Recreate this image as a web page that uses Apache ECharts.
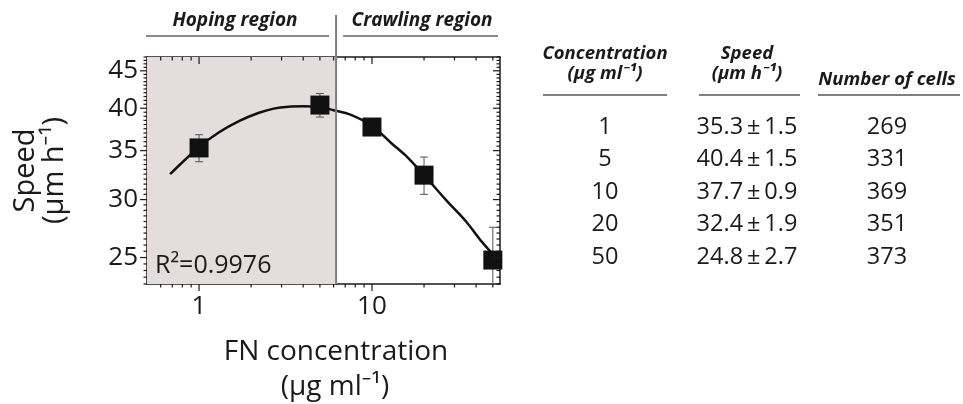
<!DOCTYPE html>
<html><head><meta charset="utf-8">
<script src="https://cdn.jsdelivr.net/npm/echarts@6/dist/echarts.min.js"></script>
<style>html,body{margin:0;padding:0;background:#fff}#c{width:963px;height:404px}</style>
</head><body><div id="c"></div>
<script>
// ---- data ----
const concentrations = [1, 5, 10, 20, 50];
const speeds = [35.3, 40.4, 37.7, 32.4, 24.8];
const speedSD = [1.5, 1.5, 0.9, 1.9, 2.7];
const cellCounts = [269, 331, 369, 351, 373];
const fitX = [0.68, 1, 1.3, 1.7, 2.2, 2.7, 3.3, 4, 5, 6, 7.5, 10, 13, 16, 20, 27, 35, 43, 50, 53];
const fitY = [32.5, 35.4, 37.05, 38.4, 39.4, 39.95, 40.2, 40.25, 40.15, 39.75, 39.2, 37.85, 35.8, 34.3, 32.4, 29.9, 28.0, 26.3, 25.25, 24.85];
const xMajorTicks = [1, 10];
const xMinorTicks = [0.6, 0.7, 0.8, 0.9, 2, 3, 4, 5, 6, 7, 8, 9, 20, 30, 40, 50];
const yMajorTicks = [25, 30, 35, 40, 45];
const yMinorTicks = [23, 23.5, 24, 24.5, 25.5, 26, 26.5, 27, 27.5, 28, 28.5, 29, 29.5, 30.5, 31, 31.5, 32, 32.5, 33, 33.5, 34, 34.5, 35.5, 36, 36.5, 37, 37.5, 38, 38.5, 39, 39.5, 40.5, 41, 41.5, 42, 42.5, 43, 43.5, 44, 44.5, 45.5, 46, 46.5, 47];
const regionBoundary = 6.2;
const regionLabels = ['Hoping region', 'Crawling region'];
const fitLabel = 'R²=0.9976';
const xTitle = ['FN concentration', '(µg ml⁻¹)'];
const yTitle = 'Speed\n(µm h⁻¹)';
const tableHeaders = [['Concentration', '(µg ml⁻¹)'], ['Speed', '(µm h⁻¹)'], ['Number of cells']];

// ---- style ----
const FONT = '"Open Sans", "Noto Sans", sans-serif';
const INK = '#1a1a1a';
const X_MIN = 0.5, X_MAX = 55, Y_MIN = 23, Y_MAX = 47;
const GRID = {left: 147, top: 57, width: 353, height: 227};

function xAxisDef(position, showLabel) {
  return {
    type: 'log', logBase: 10, min: X_MIN, max: X_MAX, position: position,
    axisLine: {show: true, onZero: false, lineStyle: {color: INK, width: 1.5}},
    axisTick: {show: false},
    axisLabel: showLabel ? {show: true, customValues: xMajorTicks, formatter: v => String(v), fontFamily: FONT, fontSize: 26, color: INK, margin: 10} : {show: false},
    splitLine: {show: false}, minorTick: {show: false}
  };
}
function yAxisDef(position, showLabel) {
  return {
    type: 'log', logBase: 10, min: Y_MIN, max: Y_MAX, position: position,
    axisLine: {show: true, onZero: false, lineStyle: {color: INK, width: 1.5}},
    axisTick: {show: false},
    axisLabel: showLabel ? {show: true, customValues: yMajorTicks, formatter: v => String(v), fontFamily: FONT, fontSize: 26, color: INK, margin: 9} : {show: false},
    splitLine: {show: false}, minorTick: {show: false}
  };
}

const yAxis0 = Object.assign(yAxisDef('left', true), {
  name: yTitle, nameLocation: 'middle', nameGap: 78, nameRotate: 90,
  nameTextStyle: {fontFamily: FONT, fontSize: 29, color: INK, lineHeight: 29}
});

const points = concentrations.map((c, i) => [c, speeds[i]]);
const errData = concentrations.map((c, i) => [c, speeds[i] + speedSD[i], Math.max(speeds[i] - speedSD[i], Y_MIN)]);
const fitData = fitX.map((x, i) => [x, fitY[i]]);

const option = {
  animation: false,
  backgroundColor: '#ffffff',
  grid: GRID,
  xAxis: [xAxisDef('bottom', true), xAxisDef('top', false)],
  yAxis: [yAxis0, yAxisDef('right', false)],
  series: [
    {
      type: 'line', data: points, showSymbol: false, symbol: 'none',
      lineStyle: {width: 0, opacity: 0}, z: 0, silent: true,
      markArea: {
        silent: true,
        itemStyle: {color: '#e3dddd'},
        data: [[{xAxis: X_MIN}, {xAxis: regionBoundary}]]
      }
    },
    {
      type: 'custom', data: errData, clip: true, z: 2,
      encode: {x: 0, y: [1, 2]},
      renderItem: function (params, api) {
        const x = api.value(0);
        const hi = api.coord([x, api.value(1)]);
        const lo = api.coord([x, api.value(2)]);
        const w = 4;
        return {type: 'group', children: [
          {type: 'line', shape: {x1: hi[0], y1: hi[1], x2: lo[0], y2: lo[1]}, style: {stroke: '#555', lineWidth: 1}},
          {type: 'line', shape: {x1: hi[0] - w, y1: hi[1], x2: hi[0] + w, y2: hi[1]}, style: {stroke: '#555', lineWidth: 1}},
          {type: 'line', shape: {x1: lo[0] - w, y1: lo[1], x2: lo[0] + w, y2: lo[1]}, style: {stroke: '#555', lineWidth: 1}}
        ]};
      }
    },
    {
      type: 'line', data: fitData, smooth: 0.3, symbol: 'none', z: 3,
      lineStyle: {color: '#111', width: 2.5}
    },
    {
      type: 'scatter', data: points, symbol: 'rect', symbolSize: 19, z: 4,
      itemStyle: {color: '#111', opacity: 1}
    }
  ]
};

const chart = echarts.init(document.getElementById('c'), null, {renderer: 'canvas'});
chart.setOption(option);

// ---- ticks, annotations & table ----
const g = [];
function px(x, y) { return chart.convertToPixel({xAxisIndex: 0, yAxisIndex: 0}, [x, y]); }
function tickLine(x1, y1, x2, y2) {
  g.push({type: 'line', z: 20, silent: true, shape: {x1: x1, y1: y1, x2: x2, y2: y2}, style: {stroke: INK, lineWidth: 1.2}});
}
xMajorTicks.map(v => [v, 7]).concat(xMinorTicks.map(v => [v, 3.5])).forEach(([v, len]) => {
  const b = px(v, Y_MIN), t = px(v, Y_MAX);
  tickLine(b[0], b[1], b[0], b[1] + len);   // bottom: outward
  tickLine(t[0], t[1], t[0], t[1] + len);   // top: inward
});
yMajorTicks.map(v => [v, 7]).concat(yMinorTicks.map(v => [v, 3.5])).forEach(([v, len]) => {
  const l = px(X_MIN, v), r = px(X_MAX, v);
  tickLine(l[0] - len, l[1], l[0], l[1]);   // left: outward
  tickLine(r[0] - len, r[1], r[0], r[1]);   // right: inward
});

const bx = px(regionBoundary, Y_MIN)[0];
const gridBottom = GRID.top + GRID.height;
g.push({type: 'line', z: 10, shape: {x1: bx, y1: 15, x2: bx, y2: gridBottom}, style: {stroke: '#7f7f7f', lineWidth: 2}});
g.push({type: 'line', shape: {x1: 146, y1: 36, x2: bx - 7, y2: 36}, style: {stroke: '#8a8a8a', lineWidth: 2}});
g.push({type: 'line', shape: {x1: bx + 7, y1: 36, x2: 498, y2: 36}, style: {stroke: '#8a8a8a', lineWidth: 2}});
const regStyle = {fontFamily: FONT, fontWeight: 'bold', fontStyle: 'italic', fontSize: 19, fill: INK, align: 'center', verticalAlign: 'middle'};
g.push({type: 'text', x: 235, y: 21, style: Object.assign({text: regionLabels[0]}, regStyle)});
g.push({type: 'text', x: 422, y: 21, style: Object.assign({text: regionLabels[1]}, regStyle)});
g.push({type: 'text', z: 10, x: 155, y: 266, style: {text: fitLabel, fontFamily: FONT, fontSize: 25, fill: INK, align: 'left', verticalAlign: 'middle'}});
const xTitleStyle = {fontFamily: FONT, fontSize: 28, fill: INK, align: 'center', verticalAlign: 'middle'};
g.push({type: 'text', x: 336, y: 352, style: Object.assign({text: xTitle[0]}, xTitleStyle)});
g.push({type: 'text', x: 335, y: 387, style: Object.assign({text: xTitle[1]}, xTitleStyle)});

const colX = [605, 747, 887];
const lineSpans = [[543, 667], [699, 800], [818, 960]];
const hdrStyle = {fontFamily: FONT, fontWeight: 'bold', fontStyle: 'italic', fontSize: 18.5, fill: INK, align: 'center', verticalAlign: 'middle'};
tableHeaders.forEach((h, j) => {
  if (h.length === 2) {
    g.push({type: 'text', x: colX[j], y: 54, style: Object.assign({text: h[0]}, hdrStyle)});
    g.push({type: 'text', x: colX[j], y: 74, style: Object.assign({text: h[1]}, hdrStyle)});
  } else {
    g.push({type: 'text', x: colX[j], y: 80, style: Object.assign({text: h[0]}, hdrStyle)});
  }
  g.push({type: 'line', shape: {x1: lineSpans[j][0], y1: 95, x2: lineSpans[j][1], y2: 95}, style: {stroke: '#555', lineWidth: 1.5}});
});
const rowTop = 127, rowStep = 32.5;
const cellStyle = {fontFamily: FONT, fontSize: 23.5, fill: INK, align: 'center', verticalAlign: 'middle'};
concentrations.forEach((c, i) => {
  const y = rowTop + i * rowStep;
  g.push({type: 'text', x: colX[0], y: y, style: Object.assign({text: String(c)}, cellStyle)});
  g.push({type: 'text', x: colX[1], y: y, style: Object.assign({text: speeds[i].toFixed(1) + '\u2009±\u2009' + speedSD[i].toFixed(1)}, cellStyle)});
  g.push({type: 'text', x: colX[2], y: y, style: Object.assign({text: String(cellCounts[i])}, cellStyle)});
});
chart.setOption({graphic: g});
</script>
</body></html>
